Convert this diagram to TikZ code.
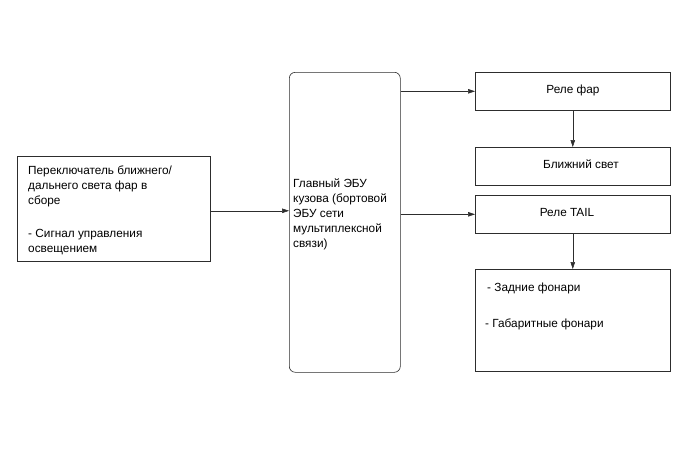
\documentclass[tikz,border=0pt]{standalone}
\usepackage{fontspec}
\setmainfont{Liberation Sans}
\usetikzlibrary{arrows.meta, positioning}
\definecolor{mydark}{RGB}{45,45,45}
\tikzset{
  box/.style={rectangle, draw=mydark, line width=0.6pt, inner sep=0pt, anchor=north west},
  txt/.style={font=\fontsize{11.8}{15}\selectfont, inner sep=0pt, align=left, color=black},
  arrow/.style={-{Triangle[length=7pt,width=4.5pt]}, line width=0.5pt, color=mydark}
}

\begin{document}
\begin{tikzpicture}[x=1pt, y=-1pt]
  \useasboundingbox (0,0) rectangle (688,463);

  % Switch assembly
  \node[box, minimum width=193pt, minimum height=105pt] (switch) at (17,156) {};
  \node[txt, anchor=north west] (switchtxt) at (28,166)
    {Переключатель ближнего/\\дальнего света фар в\\сборе\\[18pt]- Сигнал управления\\освещением};

  % Main body ECU
  \node[box, rounded corners=6pt, minimum width=111pt, minimum height=300pt] (ecu) at (289,72) {};
  \node[txt, anchor=north west] (ecutxt) at (293,179)
    {Главный ЭБУ\\кузова (бортовой\\ЭБУ сети\\мультиплексной\\связи)};

  % Relays and lamps
  \node[box, minimum width=195pt, minimum height=38pt] (headrelay) at (475,72) {};
  \node[txt] (headtxt) at (573,90) {Реле фар};
  \node[box, minimum width=195pt, minimum height=38pt] (lowbeam) at (475,147) {};
  \node[txt] (lowtxt) at (581,164) {Ближний свет};
  \node[box, minimum width=195pt, minimum height=38pt] (tailrelay) at (475,195) {};
  \node[txt] (tailtxt) at (567,212) {Реле TAIL};
  \node[box, minimum width=195pt, minimum height=102pt] (lamps) at (475,269) {};
  \node[txt, anchor=west] (reartxt) at (487,288) {- Задние фонари};
  \node[txt, anchor=west] (sidetxt) at (485,324) {- Габаритные фонари};

  % Connections
  \draw[arrow] ([yshift=-2pt]switch.east) -- ([yshift=-2pt]switch.east -| ecu.west);
  \draw[arrow] (headrelay.west -| ecu.east) -- (headrelay.west);
  \draw[arrow] (tailrelay.west -| ecu.east) -- (tailrelay.west);
  \draw[arrow] (headrelay.south) -- (lowbeam.north);
  \draw[arrow] (tailrelay.south) -- (lamps.north);
\end{tikzpicture}
\end{document}
